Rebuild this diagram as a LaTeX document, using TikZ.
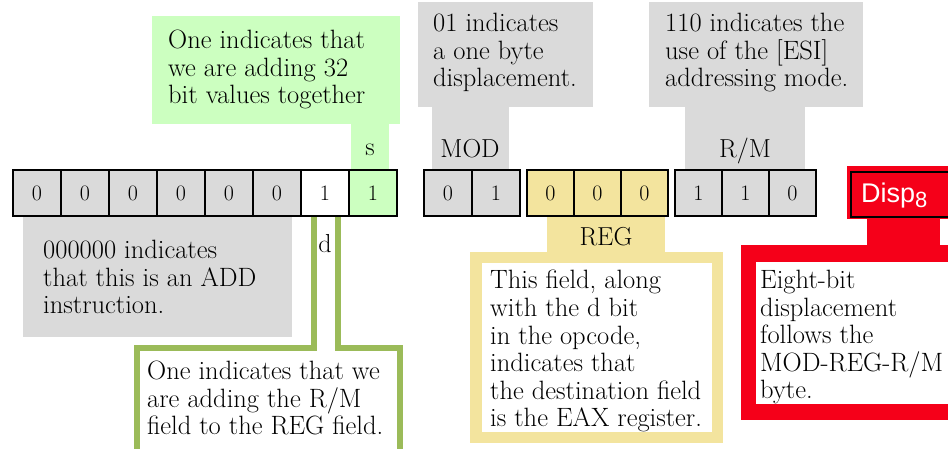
\documentclass[tikz,border=0pt]{standalone}
\usepackage{fontspec}
\newfontfamily\dispfont{Liberation Sans}
\definecolor{cgray}{RGB}{218,218,218}
\definecolor{cgreen}{RGB}{204,255,192}
\definecolor{colive}{RGB}{155,187,89}
\definecolor{cyellow}{RGB}{243,228,158}
\definecolor{cred}{RGB}{245,0,25}
\begin{document}
\begin{tikzpicture}[x=1pt,y=-1pt,
 bitbox/.style={draw=black,line width=1.6pt,minimum width=48pt,minimum height=46pt,inner sep=0,font=\fontsize{22}{22}\selectfont},
 txt/.style={anchor=north west,inner sep=0,align=left,font=\fontsize{26.5}{27.6}\selectfont},
 lbl/.style={anchor=base,inner sep=0,font=\fontsize{26}{27.6}\selectfont}]
\useasboundingbox (0,0) rectangle (948,448);
% callout backgrounds
\fill[cgreen] (152,16) rectangle (400,124);
\fill[cgreen] (351,122) rectangle (389,171);
\fill[cgray] (418,2) rectangle (593,107);
\fill[cgray] (432,105) rectangle (509,171);
\fill[cgray] (649,2) rectangle (863,107);
\fill[cgray] (685,105) rectangle (805,171);
\fill[cgray] (23,215) rectangle (292,337);
\fill[cyellow] (547,215) rectangle (665,254);
\fill[cyellow] (470,252) rectangle (723,443);
\fill[white] (482,263) rectangle (712,432);
\fill[cred] (847,166) rectangle (952,219);
\fill[cred] (867,216) rectangle (940,247);
\fill[cred] (741,245) rectangle (952,420);
\fill[white] (756,262) rectangle (952,404);
% d-bit frame
\draw[colive,line width=6pt] (314,216) -- (314,347.5) -- (136.5,347.5) -- (136.5,455);
\draw[colive,line width=6pt] (337.5,216) -- (337.5,347.5) -- (400,347.5) -- (400,455);
% bit boxes
\node[bitbox,fill=cgray] (b0) at (37,193) {0};
\node[bitbox,fill=cgray] (b1) at (85,193) {0};
\node[bitbox,fill=cgray] (b2) at (133,193) {0};
\node[bitbox,fill=cgray] (b3) at (181,193) {0};
\node[bitbox,fill=cgray] (b4) at (229,193) {0};
\node[bitbox,fill=cgray] (b5) at (277,193) {0};
\node[bitbox,fill=white] (b6) at (325,193) {1};
\node[bitbox,fill=cgreen] (b7) at (373,193) {1};
\node[bitbox,fill=cgray] (m0) at (448,193) {0};
\node[bitbox,fill=cgray] (m1) at (496,193) {1};
\node[bitbox,fill=cyellow,minimum width=47pt] (r0) at (550.5,193) {0};
\node[bitbox,fill=cyellow,minimum width=47pt] (r1) at (597.5,193) {0};
\node[bitbox,fill=cyellow,minimum width=47pt] (r2) at (644.5,193) {0};
\node[bitbox,fill=cgray,minimum width=47pt] (q0) at (698.5,193) {1};
\node[bitbox,fill=cgray,minimum width=47pt] (q1) at (745.5,193) {1};
\node[bitbox,fill=cgray,minimum width=47pt] (q2) at (792.5,193) {0};
\node[draw=black,line width=1.6pt,fill=cred,anchor=north west,minimum width=110pt,minimum height=45pt,inner sep=0] (disp) at (850,171) {};
\node[anchor=base west,inner sep=0,text=white,font=\dispfont\fontsize{27}{27}\selectfont] (disptxt) at (861,202) {Disp{\fontsize{22}{22}\selectfont\raisebox{-5pt}{8}}};
% labels
\node[lbl] (slbl) at (370,155) {s};
\node[lbl] (dlbl) at (325,252) {d};
\node[lbl] (modlbl) at (470,157) {MOD};
\node[lbl] (rmlbl) at (745,157) {R/M};
\node[lbl] (reglbl) at (606,245) {REG};
% texts
\node[txt] (gtop) at (168,30) {One indicates that\\we are adding 32\\bit values together};
\node[txt] (modt) at (433,13) {01 indicates\\a one byte\\displacement.};
\node[txt] (rmt) at (665,13) {110 indicates the\\use of the [ESI]\\addressing mode.};
\node[txt] (addt) at (43,240) {000000 indicates\\that this is an ADD\\instruction.};
\node[txt] (dt) at (147,361) {One indicates that we\\are adding the R/M\\field to the REG field.};
\node[txt] (regt) at (490,270) {This field, along\\with the d bit\\in the opcode,\\indicates that\\the destination field\\is the EAX register.};
\node[txt] (dispt) at (760,270) {Eight-bit\\displacement\\follows the\\MOD-REG-R/M\\byte.};
\end{tikzpicture}
\end{document}
